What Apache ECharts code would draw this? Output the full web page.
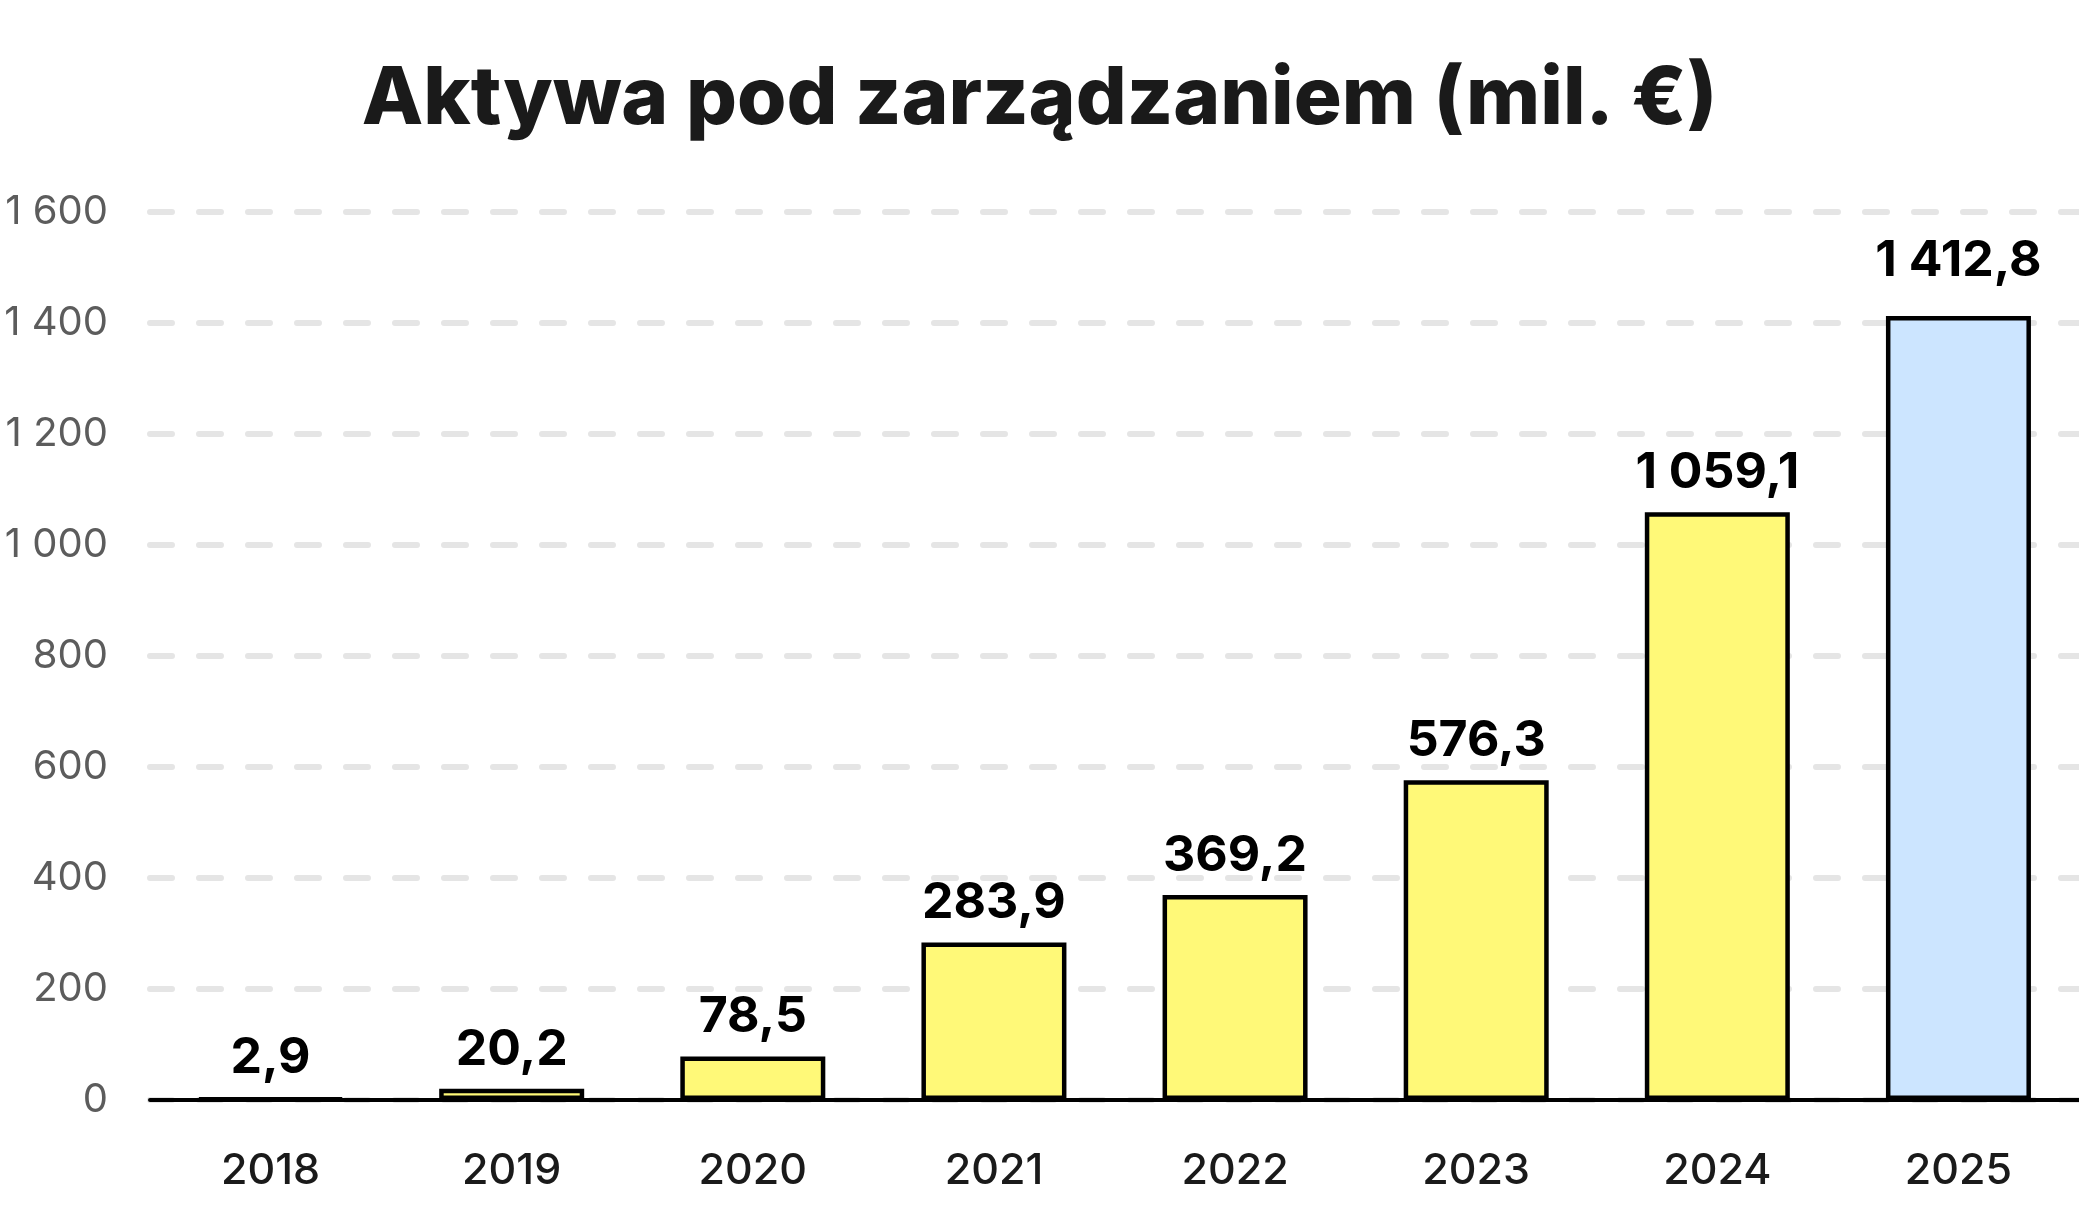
<!DOCTYPE html>
<html>
<head>
<meta charset="utf-8">
<script src="https://cdn.jsdelivr.net/npm/echarts@6/dist/echarts.min.js"></script>
<style>
  html, body { margin: 0; padding: 0; background: #fff; }
  #chart { width: 2079px; height: 1206px; }
</style>
</head>
<body>
<div id="chart"></div>
<script>
// dane z wykresu
const years = ['2018', '2019', '2020', '2021', '2022', '2023', '2024', '2025'];
const aum = [2.9, 20.2, 78.5, 283.9, 369.2, 576.3, 1059.1, 1412.8];
const yTicks = [0, 200, 400, 600, 800, 1000, 1200, 1400, 1600];

const SPACE = ' ';
const FONT = 'Inter';

function plNumber(v, digits) {
  const parts = v.toFixed(digits).split('.');
  const int = parts[0].replace(/\B(?=(\d{3})+(?!\d))/g, SPACE);
  return parts.length > 1 ? int + ',' + parts[1] : int;
}

const chart = echarts.init(document.getElementById('chart'));

const options = {
  animation: false,
  title: {
    text: 'Aktywa pod zarządzaniem (mil. €)',
    left: 'center',
    top: 55,
    textStyle: {
      fontFamily: FONT,
      fontWeight: 800,
      fontSize: 80,
      color: '#1a1a1a'
    }
  },
  grid: { left: 150, right: 0, top: 212, bottom: 106, containLabel: false },
  xAxis: {
    type: 'category',
    data: years,
    axisTick: { show: false },
    axisLine: { lineStyle: { color: '#000', width: 4, cap: 'round' } },
    axisLabel: {
      fontFamily: FONT,
      fontWeight: 500,
      fontSize: 43,
      color: '#1a1a1a',
      margin: 50
    }
  },
  yAxis: {
    type: 'value',
    min: yTicks[0],
    max: yTicks[yTicks.length - 1],
    interval: 200,
    axisLine: { show: false },
    axisTick: { show: false },
    axisLabel: {
      fontFamily: FONT,
      fontSize: 40,
      color: '#5c5c5c',
      margin: 42,
      formatter: v => plNumber(v, 0)
    },
    splitLine: {
      lineStyle: { color: '#e5e5e5', width: 6, type: [22, 27], cap: 'round' }
    }
  },
  series: [{
    type: 'bar',
    data: aum.map((v, i) => ({
      value: v,
      itemStyle: { color: i === aum.length - 1 ? '#cce5ff' : '#fff978' },
      label: { distance: i === aum.length - 1 ? 30 : 14 }
    })),
    barWidth: 145,
    itemStyle: { borderColor: '#000', borderWidth: 4.5 },
    label: {
      show: true,
      position: 'top',
      fontFamily: FONT,
      fontWeight: 'bold',
      fontSize: 50,
      color: '#000',
      formatter: p => plNumber(p.value, 1)
    }
  }]
};

chart.setOption(options);
window.onresize = () => {
  chart.resize();
};
</script>
</body>
</html>
